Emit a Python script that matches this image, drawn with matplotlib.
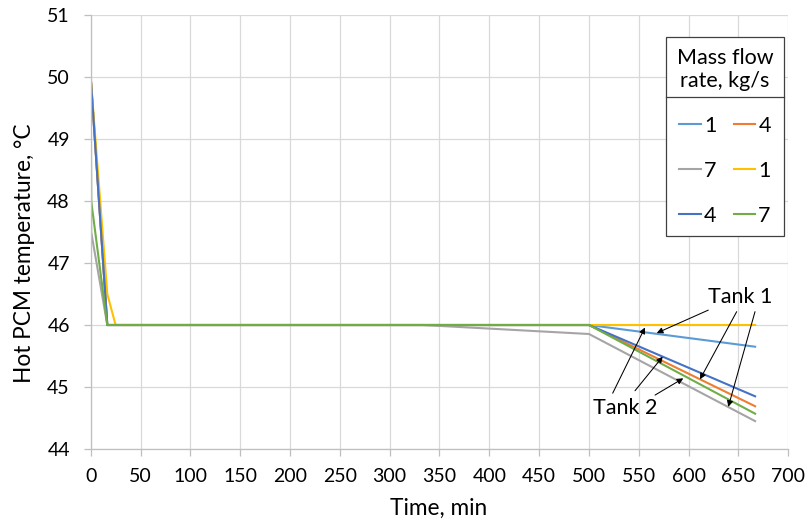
import matplotlib
matplotlib.use('Agg')
import matplotlib.pyplot as plt
from matplotlib.lines import Line2D

plt.rcParams['font.family'] = ['Lato', 'DejaVu Sans']

# Tank 1
t_t1_1 = [0, 16.67, 500, 666.7]
v_t1_1 = [50, 46, 46, 45.65]
t_t1_4 = [0, 16.67, 500, 666.7]
v_t1_4 = [50, 46, 46, 44.69]
t_t1_7 = [0, 0.5, 16.67, 333.3, 500, 666.7]
v_t1_7 = [50, 47.5, 46, 46, 45.855, 44.45]
# Tank 2
t_t2_1 = [0, 16.67, 25, 500, 666.7]
v_t2_1 = [50, 46.5, 46, 46, 46]
t_t2_4 = [0, 16.67, 500, 666.7]
v_t2_4 = [50, 46, 46, 44.85]
t_t2_7 = [0, 0.5, 16.67, 500, 666.7]
v_t2_7 = [50, 48, 46, 46, 44.57]

series = [
    (t_t1_1, v_t1_1, '1', '#5B9BD5'),
    (t_t1_4, v_t1_4, '4', '#ED7D31'),
    (t_t1_7, v_t1_7, '7', '#A5A5A5'),
    (t_t2_1, v_t2_1, '1', '#FFC000'),
    (t_t2_4, v_t2_4, '4', '#4472C4'),
    (t_t2_7, v_t2_7, '7', '#70AD47'),
]

fs_tick = 14
fs_lab = 16.3
fs_leg = 15.5
fig = plt.figure(figsize=(8.09, 5.24), dpi=100)
ax = fig.add_axes([0.1121, 0.1431, 0.8623, 0.8283])

handles = []
for t, v, lab, c in series:
    h, = ax.plot(t, v, color=c, lw=1.5, label=lab)
    handles.append(h)

ax.set_xlim(0, 700)
ax.set_ylim(44, 51)
ax.set_xticks(range(0, 701, 50))
ax.set_yticks(range(44, 52))
ax.grid(True, color='#d9d9d9', lw=0.9)
ax.set_axisbelow(True)
for s in ['top', 'right']:
    ax.spines[s].set_visible(False)
for s in ['left', 'bottom']:
    ax.spines[s].set_color('#bfbfbf')
    ax.spines[s].set_linewidth(0.9)
ax.tick_params(colors='#bfbfbf', labelcolor='black', labelsize=fs_tick, length=5, width=0.9)
ax.tick_params(axis='x', pad=9)
ax.tick_params(axis='y', pad=10)
ax.set_xlabel('Time, min', fontsize=fs_lab, va='top')
ax.set_ylabel('Hot PCM temperature, \u00b0C', fontsize=fs_lab)
ax.xaxis.set_label_coords(0.498, -0.113)
ax.yaxis.set_label_coords(-0.080, 0.4507)

# annotations
ax.text(651.5, 46.45, 'Tank 1', fontsize=fs_leg, ha='center', va='center')
ax.text(536, 44.66, 'Tank 2', fontsize=fs_leg, ha='center', va='center')
arrows = [
    ((619.7, 46.24), (568, 45.87)),
    ((648.2, 46.215), (611.4, 45.124)),
    ((666.6, 46.215), (639.8, 44.68)),
    ((523.8, 44.9), (556.2, 45.96)),
    ((546.2, 44.94), (574, 45.49)),
    ((566.3, 44.87), (594.6, 45.14)),
]
for tail, head in arrows:
    ax.annotate('', xy=head, xytext=tail,
                arrowprops=dict(arrowstyle='-|>', color='black', lw=0.75,
                                mutation_scale=9, shrinkA=0, shrinkB=0))

# legend, row-major like the original
order = [0, 2, 4, 1, 3, 5]
leg = ax.legend([handles[i] for i in order], [series[i][2] for i in order],
                ncol=2, title='Mass flow\nrate, kg/s', fontsize=fs_leg, title_fontsize=fs_leg,
                loc='upper right', bbox_to_anchor=(784 / 809, 1 - 37.3 / 524),
                bbox_transform=fig.transFigure, borderaxespad=0,
                handlelength=1.0, handletextpad=0.15, columnspacing=0.8,
                labelspacing=1.15, borderpad=0.5, fancybox=False, framealpha=1)
leg.get_frame().set_edgecolor('#404040')
leg.get_frame().set_linewidth(0.9)
leg.get_title().set_multialignment('center')

fig.canvas.draw()
r = fig.canvas.get_renderer()
fb = leg.get_frame().get_window_extent(r)
tb = leg.get_title().get_window_extent(r)
ysep = tb.y0 - 6
fig.add_artist(Line2D([fb.x0 / 809, fb.x1 / 809], [ysep / 524, ysep / 524],
                      transform=fig.transFigure, color='#404040', lw=0.9))

fig.savefig('out.png', dpi=100)
